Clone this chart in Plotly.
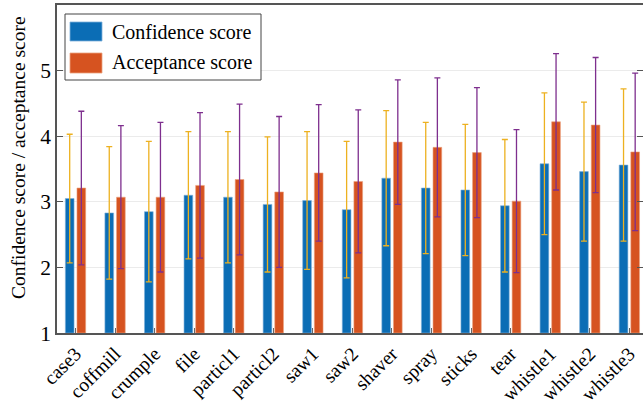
import plotly.graph_objects as go

# Per-sound mean scores with their standard deviations
sounds = ["case3", "coffmill", "crumple", "file", "particl1", "particl2", "saw1",
          "saw2", "shaver", "spray", "sticks", "tear", "whistle1", "whistle2", "whistle3"]
confidence = [3.05, 2.83, 2.85, 3.10, 3.07, 2.96, 3.02, 2.88, 3.36, 3.21, 3.18, 2.94, 3.58, 3.46, 3.56]
confidence_sd = [0.98, 1.01, 1.07, 0.97, 1.00, 1.03, 1.05, 1.04, 1.03, 1.00, 1.00, 1.01, 1.08, 1.06, 1.16]
acceptance = [3.21, 3.07, 3.07, 3.25, 3.34, 3.15, 3.44, 3.31, 3.91, 3.83, 3.75, 3.01, 4.22, 4.17, 3.76]
acceptance_sd = [1.17, 1.09, 1.14, 1.11, 1.15, 1.15, 1.04, 1.09, 0.95, 1.06, 0.99, 1.09, 1.04, 1.03, 1.20]
y_ticks = [1, 2, 3, 4, 5]

BLUE, ORANGE = "#0B6DB5", "#D65320"
YELLOW, PURPLE = "#EDB120", "#7E2F8E"
FONT = "Liberation Serif"

W, H = 643, 406
ML, MR, MT, MB = 57, 0, 5, 73
pw, ph = W - ML - MR, H - MT - MB

xs = list(range(len(sounds)))
bar_w = 0.22

fig = go.Figure()
fig.add_trace(go.Bar(
    x=xs, y=[v - 1 for v in confidence], base=1, width=bar_w, offset=-0.257,
    marker=dict(color=BLUE, line=dict(color="#7fb0da", width=0.6)),
    error_y=dict(type="data", array=confidence_sd, color=YELLOW, thickness=1.3, width=3),
    name="Confidence score", showlegend=False))
fig.add_trace(go.Bar(
    x=xs, y=[v - 1 for v in acceptance], base=1, width=bar_w, offset=0.037,
    marker=dict(color=ORANGE, line=dict(color="#eba27f", width=0.6)),
    error_y=dict(type="data", array=acceptance_sd, color=PURPLE, thickness=1.3, width=3),
    name="Acceptance score", showlegend=False))

# Helpers: pixel position -> paper fraction
def px_x(p):
    return (p - ML) / pw

def px_y(p):
    return (H - MB - p) / ph

# Legend box
shapes = [
    dict(type="rect", xref="paper", yref="paper", x0=px_x(65), x1=px_x(261),
         y0=px_y(80), y1=px_y(14), fillcolor="white", line=dict(color="#444", width=1), layer="above"),
    dict(type="rect", xref="paper", yref="paper", x0=px_x(70), x1=px_x(102),
         y0=px_y(41), y1=px_y(22), fillcolor=BLUE, line=dict(color="#7fb0da", width=0.8), layer="above"),
    dict(type="rect", xref="paper", yref="paper", x0=px_x(70), x1=px_x(102),
         y0=px_y(73), y1=px_y(53), fillcolor=ORANGE, line=dict(color="#eba27f", width=0.8), layer="above"),
]
annotations = [
    dict(text="Confidence score", xref="paper", yref="paper", x=px_x(110), y=px_y(32),
         xanchor="left", yanchor="middle", showarrow=False, font=dict(family=FONT, size=20, color="black")),
    dict(text="Acceptance score", xref="paper", yref="paper", x=px_x(110), y=px_y(62),
         xanchor="left", yanchor="middle", showarrow=False, font=dict(family=FONT, size=20, color="black")),
    # y-axis title
    dict(text="Confidence score / acceptance score", xref="paper", yref="paper",
         x=px_x(18), y=px_y(158), xanchor="center", yanchor="middle", textangle=-90,
         showarrow=False, font=dict(family=FONT, size=19.5, color="black")),
]

fig.update_layout(
    width=W, height=H, margin=dict(l=ML, r=MR, t=MT, b=MB, autoexpand=False),
    paper_bgcolor="white", plot_bgcolor="white",
    barmode="overlay", showlegend=False,
    shapes=shapes, annotations=annotations,
    font=dict(family=FONT, color="black"),
)
fig.update_xaxes(
    range=[-0.468, 14.345], tickvals=xs, ticktext=sounds, tickangle=-45,
    tickfont=dict(family=FONT, size=19.5, color="black"), ticklabelstandoff=0,
    ticks="inside", ticklen=5, tickcolor="#666", tickwidth=1,
    showline=True, linecolor="#555", linewidth=1.5, mirror=True,
    showgrid=False, zeroline=False, automargin=False,
)
fig.update_yaxes(
    range=[1, 6], tickvals=y_ticks, ticktext=[str(t) for t in y_ticks],
    tickfont=dict(family=FONT, size=21.5, color="black"),
    ticks="inside", ticklen=6, tickcolor="#555", tickwidth=1,
    showline=True, linecolor="#555", linewidth=1.5, mirror="ticks",
    showgrid=True, gridcolor="#ebebeb", gridwidth=1, zeroline=False, automargin=False,
)

fig.write_html("out.html")
